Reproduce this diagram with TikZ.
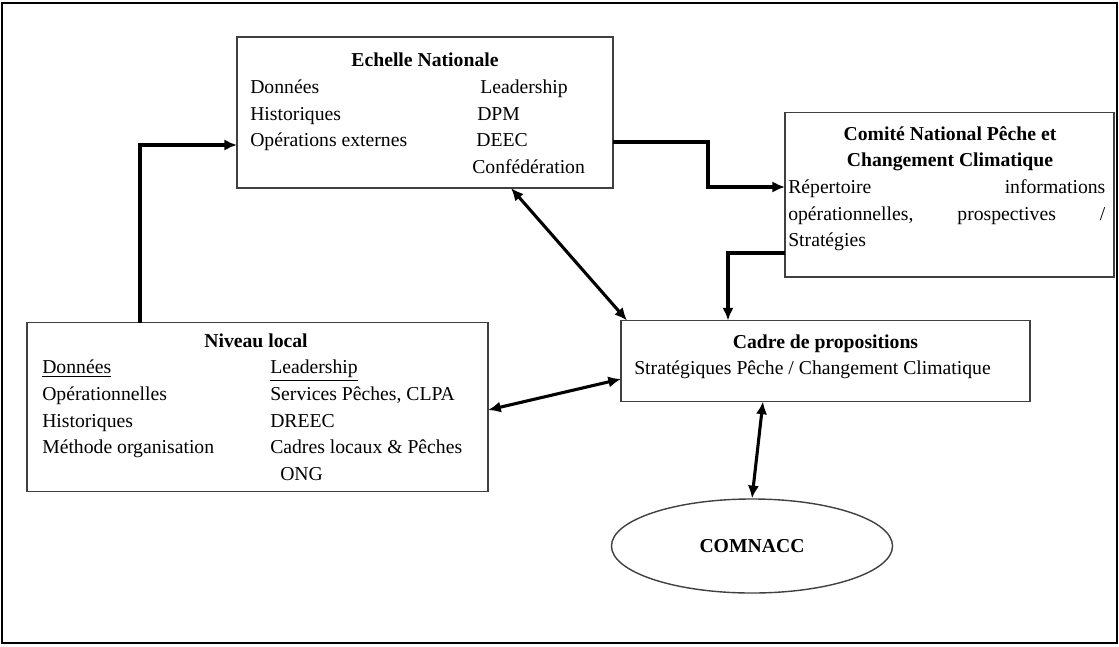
\documentclass[tikz,border=0pt]{standalone}
\usepackage{fontspec}
\setmainfont{Liberation Serif}
\usetikzlibrary{arrows.meta,shapes.geometric}

\tikzset{
  boite/.style={draw=black!75, line width=1pt, fill=white, inner sep=0pt, outer sep=0pt, anchor=north west},
  txt/.style={inner sep=0pt, anchor=base west, font=\fontsize{14}{19}\selectfont},
  titre/.style={inner sep=0pt, anchor=base, font=\fontsize{14}{19}\selectfont\bfseries},
  fleche/.style={line width=2.2pt, -{Latex[length=9pt,width=8pt]}},
  lien/.style={line width=2.2pt, {Latex[length=9pt,width=8pt]}-{Latex[length=9pt,width=8pt]}},
}

\begin{document}
\begin{tikzpicture}[x=0.025cm, y=-0.025cm]
    \useasboundingbox (0,0) rectangle (1119,646);

    % Cadre exterieur
    \draw[line width=2pt] (2,3) rectangle (1117,643);

    % Boites
    \node[boite, minimum width=9.4cm, minimum height=3.775cm] (nat) at (237,37) {};
    \node[boite, minimum width=8.225cm, minimum height=4.1125cm] (comite) at (785,112.5) {};
    \node[boite, minimum width=11.525cm, minimum height=4.225cm] (local) at (27,322.5) {};
    \node[boite, minimum width=10.225cm, minimum height=2.025cm] (cadre) at (621,320.5) {};
    \node[ellipse, draw=black!75, line width=1pt, inner sep=0pt, minimum width=7.025cm, minimum height=2.35cm,
          font=\fontsize{14}{19}\selectfont\bfseries] (comnacc) at (752,546) {COMNACC};

    % Echelle Nationale
    \node[titre] (nat-titre) at (425,66.7) {Echelle Nationale};
    \foreach \t [count=\i] in {Données, Historiques, Opérations externes} {
        \node[txt] (nat-d\i) at (250,{66.7+26.7*\i}) {\t};
    }
    \foreach \x/\t [count=\i] in {480/Leadership, 477/DPM, 476/DEEC, 472/Confédération} {
        \node[txt] (nat-l\i) at (\x,{66.7+26.7*\i}) {\t};
    }

    % Comite National
    \foreach \t [count=\i] in {Comité National Pêche et, Changement Climatique} {
        \node[titre] (com-titre\i) at (950,{113.3+26.7*\i}) {\t};
    }
    \node[txt, text width=7.925cm] (com-r1) at (788,193.4) {Répertoire\hfill informations};
    \node[txt, text width=7.925cm] (com-r2) at (788,220.1) {opérationnelles,\hfill prospectives\hfill /};
    \node[txt] (com-r3) at (788,246.8) {Stratégies};

    % Niveau local
    \node[titre] (loc-titre) at (256,347) {Niveau local};
    \foreach \t [count=\i] in {\underline{Données}, Opérationnelles, Historiques, Méthode organisation} {
        \node[txt] (loc-d\i) at (42,{347+26.7*\i}) {\t};
    }
    \foreach \x/\t [count=\i] in {270/\underline{Leadership}, 270/{Services Pêches, CLPA}, 270/DREEC,
                                 270/{Cadres locaux \& Pêches}, 280/ONG} {
        \node[txt] (loc-l\i) at (\x,{347+26.7*\i}) {\t};
    }

    % Cadre de propositions
    \node[titre] (cad-titre) at (825.5,348) {Cadre de propositions};
    \node[txt] (cad-sub) at (634,374) {Stratégiques Pêche / Changement Climatique};

    % Connecteurs
    \coordinate (c1) at (140,145);
    \coordinate (c2) at (708,142);
    \coordinate (c3) at (708,187);
    \coordinate (c4) at (728,253);
    \coordinate (p1) at (511,410);
    \coordinate (p2) at (627,379);
    \coordinate (p3) at (763,0);

    \draw[fleche] (local.north -| c1) |- (nat.west |- c1);
    \draw[fleche] (nat.east |- c2) -- (c2) -- (c3) -- (comite.west |- c3);
    \draw[fleche] (comite.west |- c4) -| (cadre.north -| c4);
    \draw[lien] (nat.south -| p1) -- (cadre.north -| p2);
    \draw[lien] (local.east |- p1) -- (cadre.west |- p2);
    \draw[lien] (cadre.south -| p3) -- (comnacc.north);

\end{tikzpicture}
\end{document}
